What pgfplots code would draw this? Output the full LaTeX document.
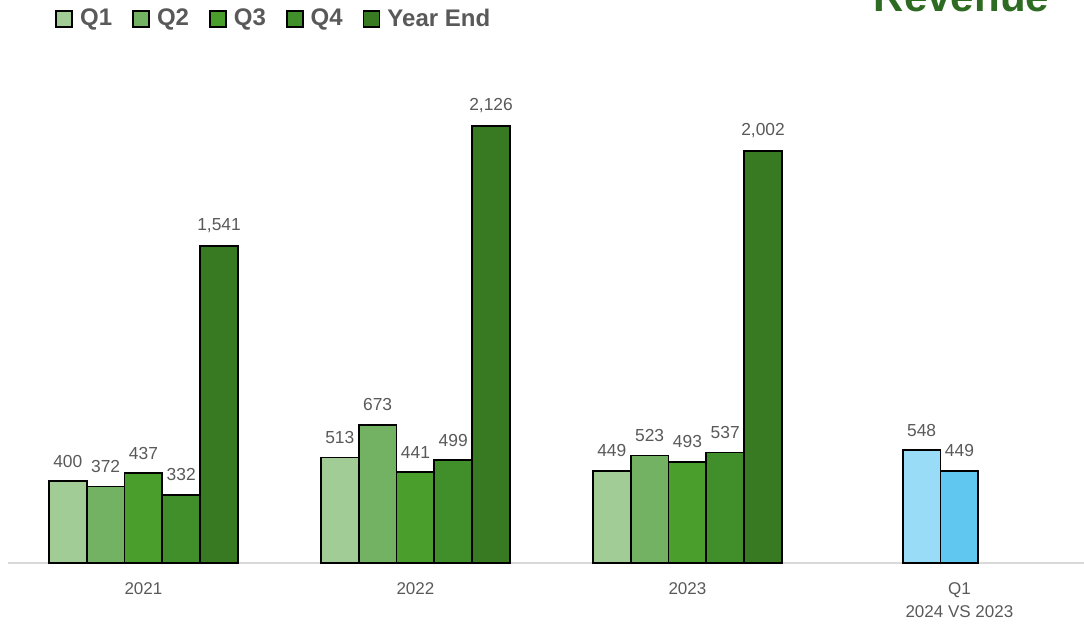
\documentclass[border=0pt]{standalone}
\usepackage{pgfplots}
\pgfplotsset{compat=1.18}
\usepackage{fontspec}
\setmainfont{Liberation Sans}
\definecolor{cQa}{HTML}{A1CC96}
\definecolor{cQb}{HTML}{72B262}
\definecolor{cQc}{HTML}{4A9E2C}
\definecolor{cQd}{HTML}{408F2A}
\definecolor{cYE}{HTML}{387A22}
\definecolor{cBa}{HTML}{98DCF8}
\definecolor{cBb}{HTML}{60C8F0}
\definecolor{txt}{HTML}{595959}
\definecolor{ttl}{HTML}{2E6B22}
\begin{document}
\begin{tikzpicture}
\begin{axis}[
  at={(4pt,30pt)}, anchor=south west,
  scale only axis, width=538pt, height=281.5pt,
  xmin=-0.498, xmax=3.458, ymin=0, ymax=2738,
  axis y line=none, axis x line=bottom,
  x axis line style={-, draw=black!15, line width=0.6pt},
  xtick={0,1,2,3}, xticklabels={2021,2022,2023,{Q1\\2024 VS 2023}},
  xtick style={draw=none}, ytick=\empty,
  xticklabel style={align=center, font=\fontsize{8.5}{11.5}\selectfont, text=txt, yshift=-4pt},
  /pgf/number format/assume math mode=true,
  /pgf/number format/1000 sep={,},
  every axis plot/.append style={ybar, bar width=18.9pt, bar shift=0pt, draw=black, line width=0.9pt,
     nodes near coords, point meta=y,
     every node near coord/.append style={font=\fontsize{8.7}{10}\selectfont, text=txt, yshift=3pt}},
  legend columns=-1,
  legend style={at={(0.0437,0.992)}, anchor=north west, draw=none, fill=none, inner sep=0pt,
     font=\fontsize{12}{14}\selectfont\bfseries, text=txt,
     /tikz/every even column/.append style={column sep=8pt}},
  legend image code/.code={\draw[#1, draw=black, line width=0.9pt] (0pt,-4pt) rectangle (8pt,4pt); \path (9.5pt,0pt);},
  clip=false,
]
\addplot[fill=cQa] coordinates {(-0.278,400) (0.722,513) (1.722,449)};
\addplot[fill=cQb] coordinates {(-0.139,372) (0.861,673) (1.861,523)};
\addplot[fill=cQc] coordinates {(0,437) (1,441) (2,493)};
\addplot[fill=cQd] coordinates {(0.139,332) (1.139,499) (2.139,537)};
\addplot[fill=cYE] coordinates {(0.278,1541) (1.278,2126) (2.278,2002)};
\addplot[fill=cBa, forget plot] coordinates {(2.861,548)};
\addplot[fill=cBb, forget plot] coordinates {(3,449)};
\legend{Q1,Q2,Q3,Q4,Year End}
\end{axis}
\node[anchor=base, font=\fontsize{21}{24}\selectfont\bfseries, text=ttl] at (480.75pt,305.5pt) {Revenue};
\pgfresetboundingbox
\useasboundingbox (0,0) rectangle (542pt,311.5pt);
\end{tikzpicture}
\end{document}
